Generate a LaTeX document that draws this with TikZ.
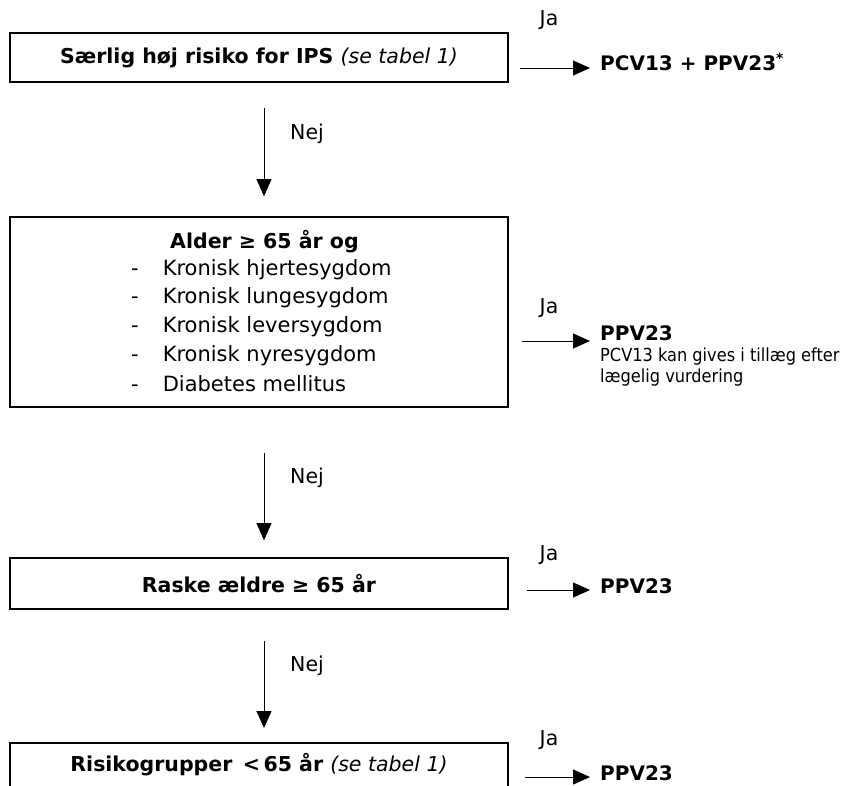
\documentclass[tikz,border=0pt]{standalone}
\usepackage{fontspec}
\setmainfont{DejaVu Sans}
\newfontfamily\condfont{DejaVu Sans Condensed}
\usetikzlibrary{arrows.meta,calc}

\tikzset{
  stepbox/.style={draw=black, line width=1.6pt, minimum width=498pt, inner sep=0pt},
  boxtext/.style={font=\fontsize{20.5}{24}\selectfont\bfseries},
  itemtext/.style={font=\fontsize{21}{24}\selectfont, anchor=west, inner sep=0pt},
  lbl/.style={font=\fontsize{20.5}{24}\selectfont, inner sep=0pt},
  result/.style={font=\fontsize{20}{24}\selectfont\bfseries, anchor=west, inner sep=0pt},
  note/.style={font=\condfont\fontsize{18}{21}\selectfont, anchor=north west,
    align=left, inner sep=0pt},
  arr/.style={line width=0.9pt, -{Triangle[length=17pt,width=15pt]}},
}

\begin{document}
\begin{tikzpicture}[x=1pt,y=-1pt]
\useasboundingbox (0,0) rectangle (853,785);
\clip (0,0) rectangle (853,785);

% decision boxes
\node[stepbox, minimum height=49pt, boxtext] (b1) at (259,57.5)
  {Særlig høj risiko for IPS \textmd{\itshape (se tabel 1)}};
\node[stepbox, minimum height=190pt] (b2) at (259,312) {};
\node[boxtext, anchor=west, inner sep=0pt] (b2h) at (170,242) {Alder ≥ 65 år og};
\foreach \t [count=\i] in {Kronisk hjertesygdom, Kronisk lungesygdom,
    Kronisk leversygdom, Kronisk nyresygdom, Diabetes mellitus} {
  \node[itemtext] (it\i) at (131,240.5+28.7*\i) {-\hspace{24pt}\t};
}
\node[stepbox, minimum height=51pt, boxtext] (b3) at (259,583.5)
  {Raske ældre ≥ 65 år};
\node[stepbox, minimum height=50pt, anchor=north] (b4) at (259,742) {};
\node[boxtext, inner sep=0pt] (b4t) at (259,765)
  {Risikogrupper \,<\,65 år \textmd{\itshape (se tabel 1)}};

% outcomes
\node[result] (r1) at (600,62) {PCV13 + PPV23\textsuperscript{*}};
\node[result] (r2) at (600,333) {PPV23};
\node[note] (r2n) at (600,348) {PCV13 kan gives i tillæg efter\\lægelig vurdering};
\node[result] (r3) at (600,586) {PPV23};
\node[result] (r4) at (600,773) {PPV23};

% "Ja" labels
\node[lbl] (j1) at (549,20) {Ja};
\node[lbl] (j2) at (549,308) {Ja};
\node[lbl] (j3) at (549,555) {Ja};
\node[lbl] (j4) at (549,740) {Ja};

% "Nej" labels
\node[lbl] (n1) at (307,134) {Nej};
\node[lbl] (n2) at (307,478) {Nej};
\node[lbl] (n3) at (307,666) {Nej};

% yes-arrows
\coordinate (a1) at (520,68);
\coordinate (a2) at (522,341);
\coordinate (a3) at (527,590);
\coordinate (a4) at (525,777);
\draw[arr, shorten >=10pt] (a1) -- (a1 -| r1.west);
\draw[arr, shorten >=10pt] (a2) -- (a2 -| r2.west);
\draw[arr, shorten >=10pt] (a3) -- (a3 -| r3.west);
\draw[arr, shorten >=10pt] (a4) -- (a4 -| r4.west);

% no-arrows
\draw[arr, shorten <=25pt, shorten >=20pt] ([xshift=5pt]b1.south) -- ([xshift=5pt]b2.north);
\draw[arr, shorten <=45pt, shorten >=17pt] ([xshift=5pt]b2.south) -- ([xshift=5pt]b3.north);
\draw[arr, shorten <=31pt, shorten >=14pt] ([xshift=5pt]b3.south) -- ([xshift=5pt]b4.north);
\end{tikzpicture}
\end{document}
